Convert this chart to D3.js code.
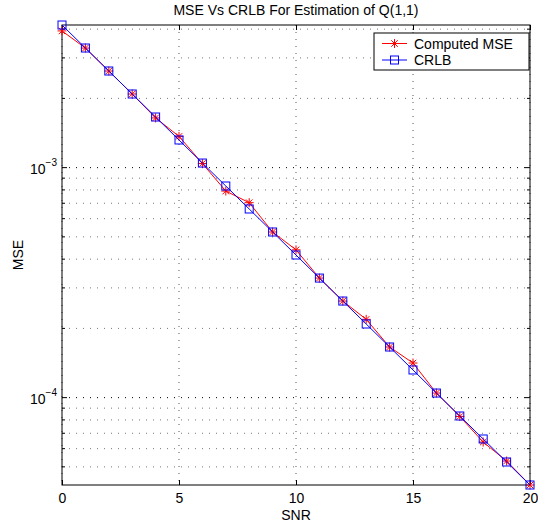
<!DOCTYPE html>
<html>
<head>
<meta charset="utf-8">
<script src="https://cdn.jsdelivr.net/npm/d3@7"></script>
<style>
    body { margin: 0; background: #fff; }
    text { font-family: "Liberation Sans", Arial, Helvetica, sans-serif; fill: #000; }
</style>
</head>
<body>
<div id="chart"></div>
<script>
// data
var snr = [0, 1, 2, 3, 4, 5, 6, 7, 8, 9, 10, 11, 12, 13, 14, 15, 16, 17, 18, 19, 20];
var mseComputed = [3.93e-3, 3.31e-3, 2.63e-3, 2.09e-3, 1.645e-3, 1.367e-3, 1.042e-3, 7.91e-4, 7.04e-4, 5.25e-4,
    4.39e-4, 3.31e-4, 2.63e-4, 2.19e-4, 1.66e-4, 1.414e-4, 1.047e-4, 8.28e-5, 6.41e-5, 5.30e-5, 4.17e-5];
var crlb = [4.17e-3, 3.312e-3, 2.631e-3, 2.09e-3, 1.66e-3, 1.319e-3, 1.047e-3, 8.32e-4, 6.61e-4, 5.25e-4,
    4.17e-4, 3.31e-4, 2.63e-4, 2.09e-4, 1.66e-4, 1.319e-4, 1.047e-4, 8.32e-5, 6.61e-5, 5.25e-5, 4.17e-5];
var xTicks = [0, 5, 10, 15, 20];
var yMajor = [1e-3, 1e-4];
var seriesNames = ["Computed MSE", "CRLB"];

var margin = {top: 25, right: 8, bottom: 42, left: 62},
    width = 538 - margin.left - margin.right,
    height = 527 - margin.top - margin.bottom;

var svg = d3.select("#chart")
    .append("svg")
    .attr("width", 538)
    .attr("height", 527)
    .append("g")
    .attr("transform", "translate(" + margin.left + "," + margin.top + ")");

var all = mseComputed.concat(crlb);
var xScale = d3.scaleLinear().domain([0, 20]).range([0, width]);
var yScale = d3.scaleLog().domain(d3.extent(all)).range([height, 0]);

svg.append("rect")
    .attr("width", width)
    .attr("height", height)
    .attr("fill", "#fff");

// grid
var yMinor = yScale.ticks().filter(function (d) {
    return yMajor.indexOf(d) < 0;
});

svg.selectAll(".ygrid-minor")
    .data(yMinor)
    .enter().append("line")
    .attr("x1", 0).attr("x2", width)
    .attr("y1", function (d) { return yScale(d); })
    .attr("y2", function (d) { return yScale(d); })
    .attr("stroke", "#777")
    .attr("stroke-width", 1)
    .attr("stroke-dasharray", "1,6");

svg.selectAll(".ygrid-major")
    .data(yMajor)
    .enter().append("line")
    .attr("x1", 0).attr("x2", width)
    .attr("y1", function (d) { return yScale(d); })
    .attr("y2", function (d) { return yScale(d); })
    .attr("stroke", "#000")
    .attr("stroke-width", 1)
    .attr("stroke-dasharray", "1,6");

svg.selectAll(".xgrid")
    .data(xTicks)
    .enter().append("line")
    .attr("x1", function (d) { return xScale(d); })
    .attr("x2", function (d) { return xScale(d); })
    .attr("y1", 0).attr("y2", height)
    .attr("stroke", "#555")
    .attr("stroke-width", 1)
    .attr("stroke-dasharray", "1,6");

// axes (ticks inward, box on)
var xAxis = d3.axisBottom(xScale).tickValues(xTicks).tickSize(-5).tickPadding(8).tickFormat(d3.format("d"));
var gx = svg.append("g")
    .attr("transform", "translate(0," + height + ")")
    .call(xAxis);
gx.select(".domain").remove();
gx.selectAll("text").style("font-size", "14px").attr("fill", "#000");

var gxTop = svg.append("g")
    .call(d3.axisTop(xScale).tickValues(xTicks).tickSize(-5).tickFormat(""));
gxTop.select(".domain").remove();

function yTickSize(d) {
    return yMajor.indexOf(d) >= 0 ? 5 : 3;
}
var yTicksAll = yScale.ticks();
svg.selectAll(".ytick-l")
    .data(yTicksAll)
    .enter().append("line")
    .attr("x1", 0)
    .attr("x2", function (d) { return yTickSize(d); })
    .attr("y1", function (d) { return yScale(d); })
    .attr("y2", function (d) { return yScale(d); })
    .attr("stroke", "#000");
svg.selectAll(".ytick-r")
    .data(yTicksAll)
    .enter().append("line")
    .attr("x1", width)
    .attr("x2", function (d) { return width - yTickSize(d); })
    .attr("y1", function (d) { return yScale(d); })
    .attr("y2", function (d) { return yScale(d); })
    .attr("stroke", "#000");

var yLab = svg.selectAll(".ylab")
    .data(yMajor)
    .enter().append("text")
    .attr("text-anchor", "end")
    .attr("x", -5)
    .attr("y", function (d) { return yScale(d) + 6; })
    .style("font-size", "14px");
yLab.append("tspan").text("10");
yLab.append("tspan")
    .attr("dy", -8)
    .style("font-size", "10px")
    .text(function (d) { return "\u2212" + Math.round(-Math.log10(d)); });

svg.append("rect")
    .attr("width", width)
    .attr("height", height)
    .attr("fill", "none")
    .attr("stroke", "#000")
    .attr("stroke-width", 1);

// series
var line = d3.line()
    .x(function (d, i) { return xScale(snr[i]); })
    .y(function (d) { return yScale(d); });

function starPath(s) {
    var h = s / 2, k = h * 0.72;
    return "M" + (-h) + ",0L" + h + ",0M0," + (-h) + "L0," + h +
        "M" + (-k) + "," + (-k) + "L" + k + "," + k + "M" + (-k) + "," + k + "L" + k + "," + (-k);
}

svg.append("path")
    .attr("d", line(mseComputed))
    .attr("fill", "none")
    .attr("stroke", "#f00")
    .attr("stroke-width", 1);
svg.selectAll(".star")
    .data(mseComputed)
    .enter().append("path")
    .attr("transform", function (d, i) { return "translate(" + xScale(snr[i]) + "," + yScale(d) + ")"; })
    .attr("d", starPath(9))
    .attr("fill", "none")
    .attr("stroke", "#f00")
    .attr("stroke-width", 1);

svg.append("path")
    .attr("d", line(crlb))
    .attr("fill", "none")
    .attr("stroke", "#00f")
    .attr("stroke-width", 1);
svg.selectAll(".sq")
    .data(crlb)
    .enter().append("rect")
    .attr("x", function (d, i) { return xScale(snr[i]) - 4; })
    .attr("y", function (d) { return yScale(d) - 4; })
    .attr("width", 8)
    .attr("height", 8)
    .attr("fill", "none")
    .attr("stroke", "#00f")
    .attr("stroke-width", 1);

// legend
var legend = svg.append("g").attr("transform", "translate(" + (width - 156) + ",8)");
legend.append("rect")
    .attr("width", 155)
    .attr("height", 37)
    .attr("fill", "#fff")
    .attr("stroke", "#000");
var colors = ["#f00", "#00f"];
seriesNames.forEach(function (name, i) {
    var y = 10.5 + i * 16.5;
    legend.append("line")
        .attr("x1", 8).attr("x2", 33)
        .attr("y1", y).attr("y2", y)
        .attr("stroke", colors[i]);
    if (i === 0) {
        legend.append("path")
            .attr("transform", "translate(20.5," + y + ")")
            .attr("d", starPath(9))
            .attr("fill", "none")
            .attr("stroke", colors[i]);
    } else {
        legend.append("rect")
            .attr("x", 16.5).attr("y", y - 4)
            .attr("width", 8).attr("height", 8)
            .attr("fill", "none")
            .attr("stroke", colors[i]);
    }
    legend.append("text")
        .attr("x", 40)
        .attr("y", y + 5)
        .style("font-size", "14px")
        .text(name);
});

// titles
svg.append("text")
    .attr("x", width / 2)
    .attr("y", -10)
    .attr("text-anchor", "middle")
    .style("font-size", "14px")
    .text("MSE Vs CRLB For Estimation of Q(1,1)");

svg.append("text")
    .attr("x", width / 2)
    .attr("y", height + 35)
    .attr("text-anchor", "middle")
    .style("font-size", "14px")
    .text("SNR");

svg.append("text")
    .attr("transform", "translate(-39," + (height / 2) + ") rotate(-90)")
    .attr("text-anchor", "middle")
    .style("font-size", "14px")
    .text("MSE");
</script>
</body>
</html>
